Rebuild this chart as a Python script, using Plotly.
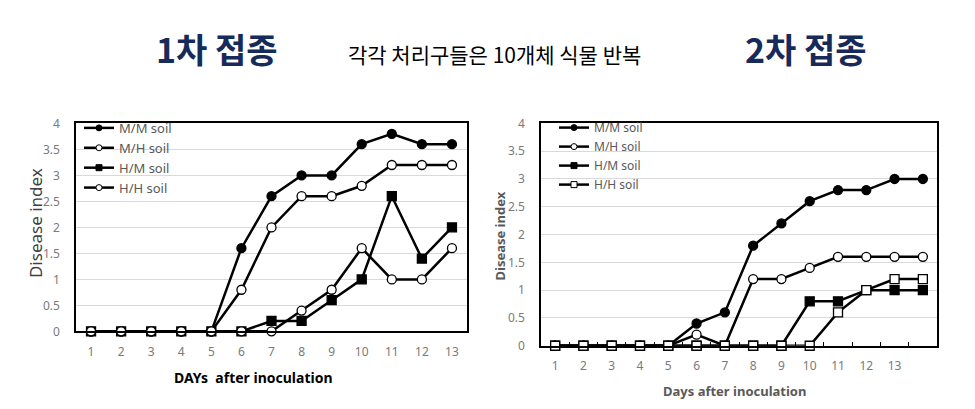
import plotly.graph_objects as go

W, H = 975, 409

# ---------------- data ----------------
series_names = ["M/M soil", "M/H soil", "H/M soil", "H/H soil"]

days1 = [1, 2, 3, 4, 5, 6, 7, 8, 9, 10, 11, 12, 13]
mm1 = [0, 0, 0, 0, 0, 1.6, 2.6, 3.0, 3.0, 3.6, 3.8, 3.6, 3.6]
mh1 = [0, 0, 0, 0, 0, 0.8, 2.0, 2.6, 2.6, 2.8, 3.2, 3.2, 3.2]
hm1 = [0, 0, 0, 0, 0, 0, 0.2, 0.2, 0.6, 1.0, 2.6, 1.4, 2.0]
hh1 = [0, 0, 0, 0, 0, 0, 0, 0.4, 0.8, 1.6, 1.0, 1.0, 1.6]

days2 = [1, 2, 3, 4, 5, 6, 7, 8, 9, 10, 11, 12, 13, 14]
mm2 = [0, 0, 0, 0, 0, 0.4, 0.6, 1.8, 2.2, 2.6, 2.8, 2.8, 3.0, 3.0]
mh2 = [0, 0, 0, 0, 0, 0.2, 0, 1.2, 1.2, 1.4, 1.6, 1.6, 1.6, 1.6]
hm2 = [0, 0, 0, 0, 0, 0, 0, 0, 0, 0.8, 0.8, 1.0, 1.0, 1.0]
hh2 = [0, 0, 0, 0, 0, 0, 0, 0, 0, 0, 0.6, 1.0, 1.2, 1.2]

xticks1 = [1, 2, 3, 4, 5, 6, 7, 8, 9, 10, 11, 12, 13]
xticks2 = [1, 2, 3, 4, 5, 6, 7, 8, 9, 10, 11, 12, 13]
yticks = [0, 0.5, 1, 1.5, 2, 2.5, 3, 3.5, 4]

title1 = "1차 접종"
title2 = "2차 접종"
subtitle = "각각 처리구들은 10개체 식물 반복"
ytitle = "Disease index"
xtitle1 = "DAYs\u00a0 after inoculation"
xtitle2 = "Days after inoculation"

# ---------------- styles ----------------
GRAY = "#595959"
TICKGRAY = "#7a7a7a"
NAVY = "#172B5A"
FONT = "Noto Sans"
KFONT = "Noto Sans CJK KR"
markers1 = [("circle", "black"), ("circle", "white"), ("square", "black"), ("circle", "white")]
markers2 = [("circle", "black"), ("circle", "white"), ("square", "black"), ("square", "white")]

fig = go.Figure()


def px_x(p):
    return p / W


def px_y(p):
    return 1 - p / H


def add_panel(days, data, markers, xa, ya, legend):
    for name, vals, (sym, fill) in zip(series_names, data, markers):
        fig.add_trace(go.Scatter(
            x=days, y=vals, mode="lines+markers", name=name,
            xaxis=xa, yaxis=ya, showlegend=False, cliponaxis=False,
            line=dict(color="black", width=2.5),
            marker=dict(symbol=sym, size=9, color=fill,
                        line=dict(color="black", width=1.3)),
        ))
    # legend entries (no data points drawn)
    for name, (sym, fill) in zip(series_names, markers):
        fig.add_trace(go.Scatter(
            x=[None], y=[None], mode="lines+markers", name=name,
            xaxis=xa, yaxis=ya, showlegend=True, legend=legend,
            line=dict(color="black", width=2.5),
            marker=dict(symbol=sym, size=6, color=fill,
                        line=dict(color="black", width=1)),
        ))


add_panel(days1, [mm1, mh1, hm1, hh1], markers1, "x", "y", "legend")
add_panel(days2, [mm2, mh2, hm2, hh2], markers2, "x2", "y2", "legend2")

axis_common = dict(showline=True, linecolor="black", linewidth=1.5, mirror=True,
                   zeroline=False, tickfont=dict(family=FONT, size=12, color=TICKGRAY))

fig.update_layout(
    width=W, height=H,
    margin=dict(l=0, r=0, t=0, b=0),
    paper_bgcolor="white", plot_bgcolor="white",
    font=dict(family=FONT, color=GRAY),
    xaxis=dict(domain=[px_x(68), px_x(459)], range=[0.5, 13.5],
               tickmode="array", tickvals=xticks1, ticktext=[str(v) for v in xticks1],
               ticks="", showgrid=False, ticklabelstandoff=8, anchor="y", **axis_common),
    yaxis=dict(domain=[px_y(328), px_y(111)], range=[0, 4],
               tickmode="array", tickvals=yticks, ticks="", showgrid=True,
               gridcolor="#d9d9d9", gridwidth=1, ticklabelstandoff=12, anchor="x",
               **axis_common),
    xaxis2=dict(domain=[px_x(533), px_x(929)], range=[0.5, 14.5],
                tickmode="array", tickvals=xticks2, ticktext=[str(v) for v in xticks2],
                ticks="", showgrid=False, ticklabelstandoff=8, anchor="y2",
                minor=dict(tickmode="array", tickvals=[v + 0.5 for v in xticks2],
                           ticks="inside", ticklen=4, tickcolor="black", tickwidth=1.3,
                           showgrid=False),
                **axis_common),
    yaxis2=dict(domain=[px_y(343), px_y(111)], range=[0, 4],
                tickmode="array", tickvals=yticks, ticks="", showgrid=True,
                gridcolor="#d9d9d9", gridwidth=1, ticklabelstandoff=12, anchor="x2",
                **axis_common),
    legend=dict(x=px_x(71), y=px_y(194), xanchor="left", yanchor="bottom",
                bgcolor="rgba(0,0,0,0)", font=dict(family=FONT, size=13, color=GRAY),
                tracegroupgap=0, itemwidth=30, borderwidth=0),
    legend2=dict(x=px_x(546), y=px_y(190), xanchor="left", yanchor="bottom",
                 bgcolor="rgba(0,0,0,0)", font=dict(family=FONT, size=12, color=GRAY),
                 tracegroupgap=0, itemwidth=30, borderwidth=0),
)

annots = [
    dict(text=f"<b>{title1}</b>", x=px_x(209), y=px_y(33),
         font=dict(family=KFONT, size=34, color=NAVY)),
    dict(text=f"<b>{title2}</b>", x=px_x(798), y=px_y(33),
         font=dict(family=KFONT, size=34, color=NAVY)),
    dict(text=subtitle, x=px_x(486), y=px_y(39),
         font=dict(family=KFONT, size=21, color="black")),
    dict(text=f"<b>{xtitle1}</b>", x=px_x(246), y=px_y(376),
         font=dict(family=FONT, size=14, color="black")),
    dict(text=f"<b>{xtitle2}</b>", x=px_x(726), y=px_y(390),
         font=dict(family=FONT, size=13, color=GRAY)),
    dict(text=ytitle, x=px_x(27), y=px_y(215), textangle=-90,
         font=dict(family=FONT, size=17, color="#404040")),
    dict(text=f"<b>{ytitle}</b>", x=px_x(492), y=px_y(228), textangle=-90,
         font=dict(family=FONT, size=13, color=GRAY)),
]
for a in annots:
    fig.add_annotation(xref="paper", yref="paper", showarrow=False,
                       xanchor="center", yanchor="middle", **a)

fig.write_html("out.html")
